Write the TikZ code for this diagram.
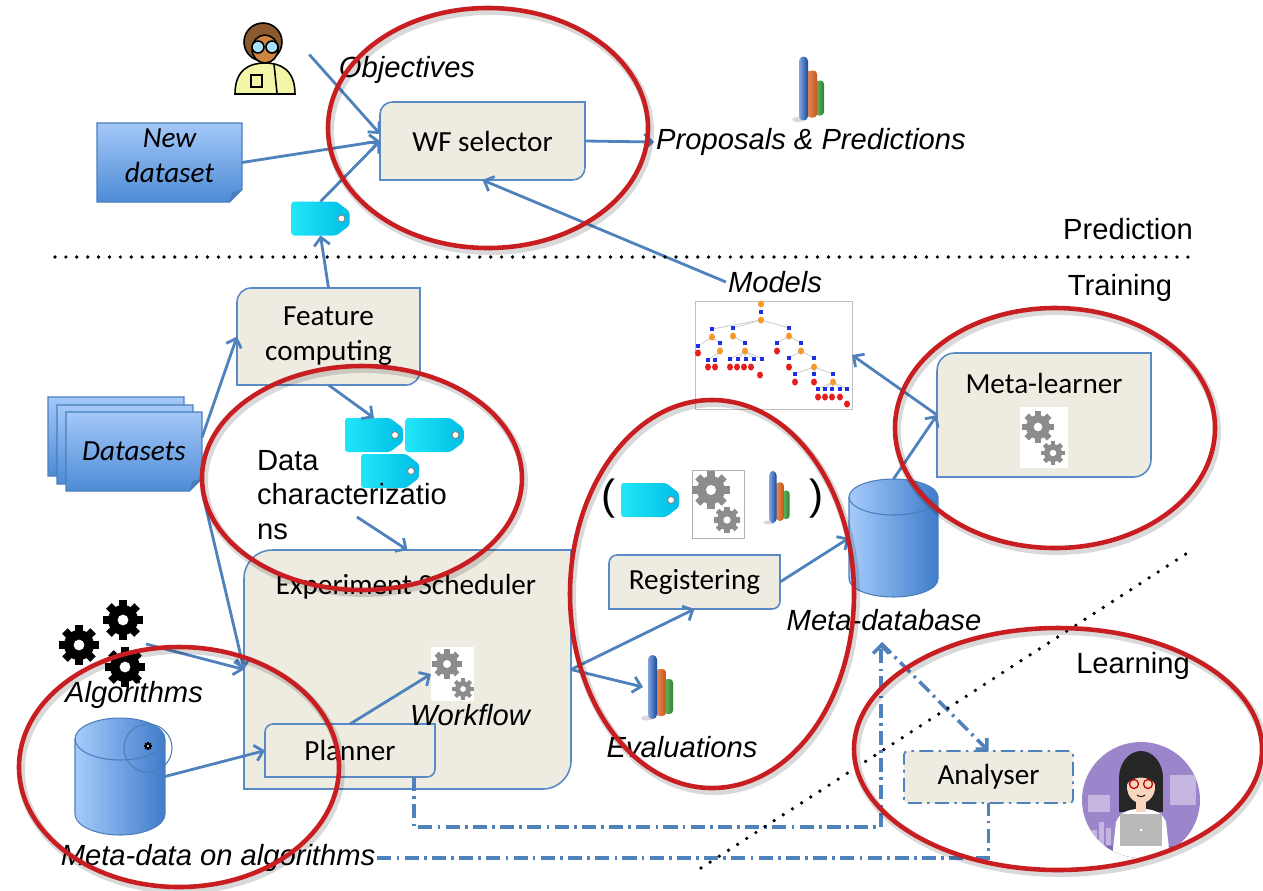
\documentclass[tikz,border=0pt]{standalone}
\usepackage{fontspec}
\setmainfont{Liberation Sans}
\newfontfamily\boxfont{Carlito}
\usepackage{tikz}
\usetikzlibrary{arrows.meta,backgrounds}
\definecolor{FlowBlue}{HTML}{4F81BD}
\definecolor{BoxFill}{HTML}{EEECE1}
\definecolor{BoxLine}{HTML}{5A8AC6}
\definecolor{RingRed}{HTML}{C81E22}
\definecolor{SheetTop}{HTML}{A4C8F8}
\definecolor{SheetBottom}{HTML}{4D8BD6}
\definecolor{SheetLine}{HTML}{4A7EBB}
\definecolor{DrumLight}{HTML}{A6CBFA}
\definecolor{DrumDark}{HTML}{3F7CCB}
\definecolor{TagLight}{HTML}{22E6F8}
\definecolor{TagDeep}{HTML}{00BEE6}
\definecolor{BarBlue}{HTML}{1D5BC4}
\definecolor{BarOrange}{HTML}{E5661C}
\definecolor{BarGreen}{HTML}{3AA13A}
\definecolor{CogGrey}{HTML}{8C8C8C}
\definecolor{Hair}{HTML}{8A5A2E}
\definecolor{Skin}{HTML}{CC8442}
\definecolor{Coat}{HTML}{F3F6A6}
\definecolor{Lilac}{HTML}{9C86CB}
\definecolor{LilacDark}{HTML}{7D67B3}
\definecolor{FaceLight}{HTML}{F8D5BF}
\definecolor{NodeOrange}{HTML}{F39A2A}
\definecolor{NodeBlue}{HTML}{1E2FE6}
\definecolor{NodeRed}{HTML}{E81E1E}
\newcommand{\figsize}{\fontsize{16.6}{19.8}\selectfont}
\newcommand{\twocorner}[2]{%
  \begin{pgfonlayer}{background}
  \filldraw[fill=BoxFill,draw=BoxLine,line width=0.9pt] (#1.south west) -- ([yshift=-#2]#1.north west)
    arc[start angle=180,end angle=90,radius=#2] -- (#1.north east) -- ([yshift=#2]#1.south east)
    arc[start angle=0,end angle=-90,radius=#2] -- cycle;
  \end{pgfonlayer}}
\newcommand{\sheet}[2]{%
  \begin{pgfonlayer}{background}
  \shadedraw[top color=SheetTop,bottom color=SheetBottom,draw=SheetLine,line width=0.6pt]
    (#1.north west) -- (#1.north east) -- ([yshift=#2]#1.south east) -- ([xshift=-#2]#1.south east) -- (#1.south west) -- cycle;
  \fill[SheetLine] ([yshift=#2]#1.south east) -- ([xshift=-#2]#1.south east) -- ([xshift=-0.8*#2,yshift=0.8*#2]#1.south east) -- cycle;
  \end{pgfonlayer}}
\newcommand{\drum}[3]{%
  \shadedraw[left color=DrumLight,right color=DrumDark,draw=SheetLine,line width=0.6pt]
    ([yshift=-#3]#1.north west) -- ([yshift=#3]#1.south west)
    arc[start angle=180,end angle=360,x radius=#2,y radius=#3]
    -- ([yshift=-#3]#1.north east)
    arc[start angle=0,end angle=180,x radius=#2,y radius=#3] -- cycle;
  \draw[SheetLine,line width=0.6pt] ([yshift=-#3]#1.north west) arc[start angle=180,end angle=360,x radius=#2,y radius=#3];}
\newcommand{\cog}[3]{%
  \begin{scope}[shift={#1}]
    \foreach \ang in {0,45,...,315}
      \fill[#3,rotate=\ang] (-0.26*#2,0) rectangle (0.26*#2,1.33*#2);
    \fill[#3] (0,0) circle (#2);
    \fill[white] (0,0) circle (0.36*#2);
  \end{scope}}
\tikzset{
  bars/.pic={
    \fill[gray!30] (-13,31) ellipse[x radius=6,y radius=2.5];
    \shade[left color=BarGreen!75!white,right color=BarGreen!80!black,rounded corners=2pt] (4,-8) rectangle (13,27);
    \shade[left color=BarOrange!75!white,right color=BarOrange!85!black,rounded corners=2pt] (-4,-18) rectangle (6,29);
    \shade[left color=BarBlue!55!white,right color=BarBlue!80!black,rounded corners=2.5pt] (-12,-32) rectangle (-3,32);
  },
  tag/.pic={
    \shade[left color=TagLight,right color=TagDeep,rounded corners=1.5pt] (-29,-17) -- (16,-17) -- (29,-7) -- (29,7) -- (16,17) -- (-29,17) -- cycle;
    \filldraw[fill=white,draw=gray,line width=0.5pt] (21,0) circle (3.5);
  }
}

\begin{document}
\begin{tikzpicture}[x=0.02cm,y=-0.02cm,
slot/.style={inner sep=0pt,outer sep=0pt},
boxtext/.style={font=\boxfont\figsize,align=center},
itlab/.style={font=\figsize\itshape,inner sep=1pt},
uplab/.style={font=\figsize,inner sep=1pt},
arr/.style={-{Straight Barb[length=4.5pt,width=9pt]},line width=1.6pt,draw=FlowBlue},
linkdash/.style={line width=2pt,draw=FlowBlue,dash pattern=on 8pt off 3pt on 1.5pt off 3pt},
sepline/.style={line width=2.1pt,line cap=round,dash pattern=on 0pt off 6.2pt},
ring/.style={draw=RingRed,line width=2.6pt},
halo/.style={draw=black,opacity=0.15,line width=4.5pt}
]
\useasboundingbox (0,0) rectangle (1263,890);

\node[slot,minimum width=1.28cm,minimum height=1.48cm] (sci) at (265,58) {};
\filldraw[fill=Coat,draw=black,line width=0.9pt] (235,94) .. controls (235,70) and (249,63) .. (265,63) .. controls (281,63) and (295,70) .. (295,94) -- cycle;
\draw[line width=0.9pt] (274,64) -- (277,93);
\draw[line width=0.9pt] (251,75) rectangle (262,87);
\filldraw[fill=Hair,draw=black,line width=0.9pt] (263,42) circle (19);
\filldraw[fill=Skin,draw=black,line width=0.9pt] (265,49) ellipse[x radius=13,y radius=14];
\filldraw[fill=cyan!35!white,draw=black,line width=0.9pt] (258,47) circle (6) (272,47) circle (6);

\node[itlab] (objectives) at (407,70) {Objectives};
\node[slot,boxtext,minimum width=4.10cm,minimum height=1.56cm] (wfsel) at (482.5,141) {WF selector};
\twocorner{wfsel}{7pt}
\node[slot,minimum width=2.90cm,minimum height=1.58cm] (newds) at (169.5,162.5) {};
\sheet{newds}{7pt}
\node[boxtext,font=\boxfont\figsize\itshape] (newdstext) at (169.5,155.5) {New\\dataset};
\node[slot,minimum width=1.16cm,minimum height=0.68cm] (tag1) at (320.5,218.5) {};
\pic at (tag1) {tag};
\node[itlab] (proposals) at (811,142) {Proposals \& Predictions};
\pic at (811,88.5) {bars};

\node[uplab] (prediction) at (1128,229) {Prediction};
\node[uplab] (training) at (1120,288) {Training};
\node[itlab] (models) at (775,282) {Models};

\node[slot,draw=gray!50,fill=white,line width=0.5pt,minimum width=3.14cm,minimum height=2.16cm] (tree) at (773.5,355) {};
\foreach \xa/\ya/\xb/\yb in {761/320/712/329,761/320/733/328,761/320/789/328,712/337/698/346,712/337/720/343,
  733/336/745/343,745/351/730/359,745/351/738/359,745/351/746/359,745/351/754/359,745/351/762/359,
  789/336/777/343,789/336/801/343,801/351/789/358,801/351/814/358,814/367/795/374,814/367/814/374,
  814/367/833/374,833/382/818/389,833/382/825/389,833/382/832/389,833/382/840/389,833/382/847/389,
  720/351/708/360,720/351/715/360}
  \draw[gray!45,line width=0.4pt] (\xa,\ya) -- (\xb,\yb);
\foreach \px/\py in {761/312,712/329,733/328,789/328,698/346,720/343,745/343,777/343,801/343,708/360,715/360,
  730/359,738/359,746/359,754/359,762/359,789/358,814/358,795/374,814/374,833/374,818/389,825/389,832/389,840/389,847/389}
  \fill[NodeBlue] (\px-2,\py-2) rectangle (\px+2,\py+2);
\foreach \px/\py in {761/304,761/320,712/337,733/336,789/336,720/351,745/351,801/351,814/367,833/382}
  \fill[NodeOrange] (\px,\py) ellipse[x radius=3,y radius=3.5];
\foreach \px/\py in {698/353,777/351,708/367,715/367,730/367,737/367,744/367,751/367,760/375,789/367,795/382,814/382,
  818/397,825/397,832/397,840/397,847/404}
  \fill[NodeRed] (\px,\py) ellipse[x radius=3,y radius=3.5];

\node[slot,minimum width=4.28cm,minimum height=2.48cm] (ml) at (1044,415) {};
\twocorner{ml}{10pt}
\node[boxtext] (mltext) at (1044,383) {Meta-learner};
\node[slot,fill=white,minimum width=0.96cm,minimum height=1.22cm] (mlgear) at (1044,437.5) {};
\cog{(1038,427)}{12}{CogGrey}
\cog{(1053,453)}{9}{CogGrey}

\node[slot,boxtext,minimum width=3.66cm,minimum height=1.94cm] (fc) at (328.5,336.5) {Feature\\computing};
\twocorner{fc}{8pt}
\node[slot,minimum width=2.72cm,minimum height=1.58cm] (ds3) at (116,436.5) {};
\sheet{ds3}{7pt}
\node[slot,minimum width=2.72cm,minimum height=1.58cm] (ds2) at (125,444.5) {};
\sheet{ds2}{7pt}
\node[slot,boxtext,font=\boxfont\figsize\itshape,minimum width=2.72cm,minimum height=1.58cm] (ds) at (134,451.5) {Datasets};
\sheet{ds}{7pt}

\node[slot,minimum width=1.16cm,minimum height=0.68cm] (tagA) at (374,435) {};
\node[slot,minimum width=1.16cm,minimum height=0.68cm] (tagB) at (434.5,435) {};
\node[slot,minimum width=1.16cm,minimum height=0.68cm] (tagC) at (390,471) {};
\pic at (tagA) {tag};
\pic at (tagB) {tag};
\pic at (tagC) {tag};
\node[uplab,align=left,anchor=west] (datachar) at (255,495) {Data\\characterizatio\\ns};
\coordinate (charout) at (357,517);

\node[slot,minimum width=6.54cm,minimum height=4.78cm] (sched) at (407.5,669.5) {};
\twocorner{sched}{16pt}
\node[boxtext] (schedtext) at (406,587) {Experiment Scheduler};
\node[slot,boxtext,minimum width=3.40cm,minimum height=1.06cm] (plan) at (350,750.5) {Planner};
\twocorner{plan}{4.5pt}
\node[slot,fill=white,minimum width=0.86cm,minimum height=1.08cm] (wfgear) at (452.5,674) {};
\cog{(447,664)}{11}{CogGrey}
\cog{(463,689)}{8}{CogGrey}
\node[itlab] (workflow) at (470,715) {Workflow};

\node[slot,minimum width=1.76cm,minimum height=1.84cm] (algs) at (102,644) {};
\cog{(79,645)}{15}{black}
\cog{(123,620)}{15}{black}
\cog{(125,667)}{15}{black}
\node[itlab] (algtext) at (134,695) {Algorithms};
\node[slot,minimum width=1.80cm,minimum height=2.34cm] (mda) at (120,776.5) {};
\drum{mda}{0.9cm}{0.42cm}
\draw[SheetLine,line width=0.6pt] (148,748) circle (24);
\cog{(148,746)}{3}{black}
\node[itlab] (metaalg) at (218,858) {Meta-data on algorithms};

\node[uplab,font={\fontsize{24}{26}\selectfont}] (lpar) at (609,499) {(};
\node[slot,minimum width=1.16cm,minimum height=0.68cm] (tagR) at (650,500) {};
\pic at (tagR) {tag};
\node[slot,draw=gray!60,fill=white,line width=0.5pt,minimum width=1.04cm,minimum height=1.36cm] (brgear) at (718,504) {};
\cog{(711,490)}{14}{CogGrey}
\cog{(727,520)}{10}{CogGrey}
\pic[scale=0.82] at (779,497) {bars};
\node[uplab,font={\fontsize{24}{26}\selectfont}] (rpar) at (817,499) {)};
\node[slot,boxtext,minimum width=3.42cm,minimum height=1.08cm] (reg) at (694.5,582) {Registering};
\twocorner{reg}{4.5pt}
\node[slot,minimum width=0.68cm,minimum height=1.28cm] (evalbars) at (660,687) {};
\pic at (evalbars) {bars};
\node[itlab] (evals) at (682,747) {Evaluations};

\node[slot,minimum width=1.78cm,minimum height=2.36cm] (mdb) at (893.5,538) {};
\drum{mdb}{0.89cm}{0.36cm}
\node[itlab] (mdblabel) at (884,620) {Meta-database};
\coordinate (dbfoot) at (881,643);

\node[uplab] (learning) at (1133,666) {Learning};
\node[slot,boxtext,fill=BoxFill,draw=FlowBlue,linkdash,line width=1pt,rounded corners=2pt,minimum width=3.38cm,minimum height=1.04cm] (anl) at (988.5,777) {Analyser};

\begin{scope}
\clip (1141,800) ellipse[x radius=59,y radius=58];
\fill[Lilac] (1082,742) rectangle (1200,858);
\fill[Lilac!60!white] (1170,775) rectangle (1196,805);
\foreach \hx/\hy in {1092/830,1099/822,1106/828}
  \fill[Lilac!60!white] (\hx,\hy) rectangle (\hx+5,845);
\fill[Lilac!60!white] (1088,795) rectangle (1110,812);
\fill[LilacDark] (1082,846) rectangle (1200,858);
\fill[black!85] (1141,778) ellipse[x radius=22,y radius=27];
\fill[black!85] (1119,778) rectangle (1163,812);
\fill[white] (1112,858) -- (1116,822) .. controls (1120,812) and (1128,810) .. (1136,809) -- (1146,809) .. controls (1154,810) and (1162,812) .. (1166,822) -- (1170,858) -- cycle;
\fill[FaceLight] (1136,795) rectangle (1146,812);
\fill[FaceLight] (1141,787) ellipse[x radius=14,y radius=16];
\fill[black!85] (1126,785) .. controls (1126,765) and (1156,765) .. (1156,785) .. controls (1150,776) and (1134,774) .. (1126,785) -- cycle;
\draw[red!75!black,line width=0.7pt] (1134,784) circle (4.5) (1148,784) circle (4.5);
\draw[line width=0.5pt] (1137,795) .. controls (1139,797) and (1143,797) .. (1145,795);
\fill[gray!55] (1120,814) rectangle (1162,846);
\fill[white] (1141,830) circle (1.5);
\end{scope}

\draw[arr] ([xshift=7pt,yshift=2pt]sci.east) -- ([yshift=4pt]wfsel.west);
\draw[arr] (newds.east) -- (wfsel.west);
\draw[arr] (tag1.north) -- (wfsel.west);
\draw[arr] (wfsel.east) -- (proposals.west);
\draw[arr] (models.west) -- (wfsel.south);
\draw[arr] (fc.north) -- (tag1.south);
\draw[arr] ([yshift=8pt]ds.east) -- (fc.west);
\draw[arr] (ds.south east) -- (sched.west);
\draw[arr] (algs.east) -- (sched.west);
\draw[arr] (fc.south) -- (tagA.north);
\draw[arr] (charout) -- (sched.north);
\draw[arr] (plan.north) -- (wfgear.west);
\draw[arr] (mda.east) -- (plan.west);
\draw[arr] (sched.east) -- (reg.south);
\draw[arr] (sched.east) -- (evalbars.west);
\draw[arr] (reg.east) -- (mdb.west);
\draw[arr] (ml.west) -- (tree.east);
\draw[arr] (mdb.north) -- (ml.west);
\draw[arr,linkdash] ([xshift=-12pt]plan.south east) -- ++(0,50) -| (dbfoot);
\draw[arr,linkdash] (dbfoot) -- (anl.north);
\draw[linkdash] (metaalg.east) -| (anl.south);

\draw[sepline] (55,257) -- (1190,257);
\draw[sepline] (701,868) -- (1192,550);

\foreach \cx/\cy/\rx/\ry in {488/128/160/120,362/478/160/112,712/594/142/194,1055/428/160/120,179/767/160/120,1058/749/204/121}
  \draw[halo] (\cx+2,\cy+3) ellipse[x radius=\rx,y radius=\ry];
\foreach \cx/\cy/\rx/\ry in {488/128/160/120,362/478/160/112,712/594/142/194,1055/428/160/120,179/767/160/120,1058/749/204/121}
  \draw[ring] (\cx,\cy) ellipse[x radius=\rx,y radius=\ry];
\end{tikzpicture}
\end{document}
